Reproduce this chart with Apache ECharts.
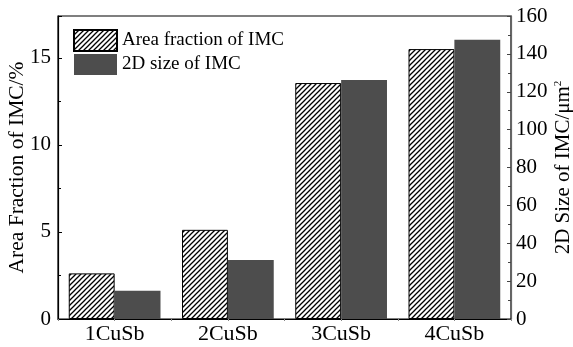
<!DOCTYPE html>
<html><head><meta charset="utf-8">
<script src="https://cdn.jsdelivr.net/npm/echarts@6/dist/echarts.min.js"></script>
<style>html,body{margin:0;padding:0;background:#fff}#c{width:573px;height:347px}</style>
</head><body><div id="c"></div>
<script>
var categories = ['1CuSb', '2CuSb', '3CuSb', '4CuSb'];
var areaFraction = [2.62, 5.12, 13.55, 15.5];
var sizeIMC = [14.9, 31.2, 126.2, 147.5];
var leftTicks = [0, 5, 10, 15];
var rightTicks = [0, 20, 40, 60, 80, 100, 120, 140, 160];

function hatch() {
  var c = document.createElement('canvas');
  c.width = 5; c.height = 5;
  var g = c.getContext('2d');
  g.fillStyle = '#fff'; g.fillRect(0, 0, 5, 5);
  g.strokeStyle = '#000'; g.lineWidth = 1.3;
  g.beginPath();
  g.moveTo(-1, 6); g.lineTo(6, -1);
  g.moveTo(-6, 6); g.lineTo(1, -1);
  g.moveTo(4, 6); g.lineTo(11, -1);
  g.stroke();
  return {image: c, repeat: 'repeat'};
}
var pat = hatch();
var F = 'Liberation Serif';
var chart = echarts.init(document.getElementById('c'));
chart.setOption({
  animation: false,
  backgroundColor: '#fff',
  grid: {left: 58, right: 62, top: 16, bottom: 28, outerBoundsMode: 'none', containLabel: false,
    show: true, borderColor: '#000', borderWidth: 1.2},
  legend: {
    left: 73, top: 29, padding: 0, orient: 'vertical', itemWidth: 43, itemHeight: 21, itemGap: 2, icon: 'rect',
    textStyle: {fontFamily: F, fontSize: 19, color: '#000'},
    data: ['Area fraction of IMC', '2D size of IMC']
  },
  xAxis: [{
    type: 'category', data: categories,
    axisLine: {lineStyle: {color: '#000', width: 1.2}},
    axisTick: {show: false},
    axisLabel: {fontFamily: F, fontSize: 22, color: '#000', margin: 4}
  }, {
    type: 'value', position: 'top', min: 0, max: 8, interval: 1,
    axisLine: {show: false}, axisLabel: {show: false}, splitLine: {show: false},
    axisTick: {show: true, inside: true, length: 2, lineStyle: {color: '#888'}}
  }],
  yAxis: [{
    type: 'value', min: 0, max: 17.4, interval: 5,
    name: 'Area Fraction of IMC/%', nameLocation: 'middle', nameGap: 30, nameMoveOverlap: false,
    nameTextStyle: {fontFamily: F, fontSize: 21.5, color: '#000'},
    axisLine: {show: true, lineStyle: {color: '#000', width: 1.2}},
    axisTick: {show: true, inside: true, length: 4, lineStyle: {color: '#000'}},
    minorTick: {show: true, splitNumber: 2, length: 3, lineStyle: {color: '#000'}},
    axisLabel: {fontFamily: F, fontSize: 21, color: '#000', margin: 7,
      formatter: function (v) { return leftTicks.indexOf(v) >= 0 ? String(v) : ''; }},
    splitLine: {show: false}
  }, {
    type: 'value', min: 0, max: 160, interval: 20, position: 'right',
    name: '2D Size of IMC/μm{sup|2}', nameLocation: 'middle', nameGap: 42, nameRotate: 90, nameMoveOverlap: false,
    nameTextStyle: {fontFamily: F, fontSize: 21, color: '#000',
      rich: {sup: {fontFamily: F, fontSize: 11, color: '#000', verticalAlign: 'top', padding: [0, 0, 10, 0]}}},
    axisLine: {show: true, lineStyle: {color: '#666', width: 1.2}},
    axisTick: {show: true, inside: true, length: 4, lineStyle: {color: '#444'}},
    minorTick: {show: true, splitNumber: 2, length: 3, lineStyle: {color: '#444'}},
    axisLabel: {fontFamily: F, fontSize: 21, color: '#000', margin: 5,
      formatter: function (v) { return rightTicks.indexOf(v) >= 0 ? String(v) : ''; }},
    splitLine: {show: false}
  }],
  series: [{
    name: 'Area fraction of IMC', type: 'bar', xAxisIndex: 0, yAxisIndex: 0,
    data: areaFraction, barGap: '0%', barCategoryGap: '19%',
    itemStyle: {color: pat, borderColor: '#000', borderWidth: 1}
  }, {
    name: '2D size of IMC', type: 'bar', xAxisIndex: 0, yAxisIndex: 1,
    data: sizeIMC, barGap: '0%', barCategoryGap: '19%',
    itemStyle: {color: '#4d4d4d'}
  }]
});
</script></body></html>
